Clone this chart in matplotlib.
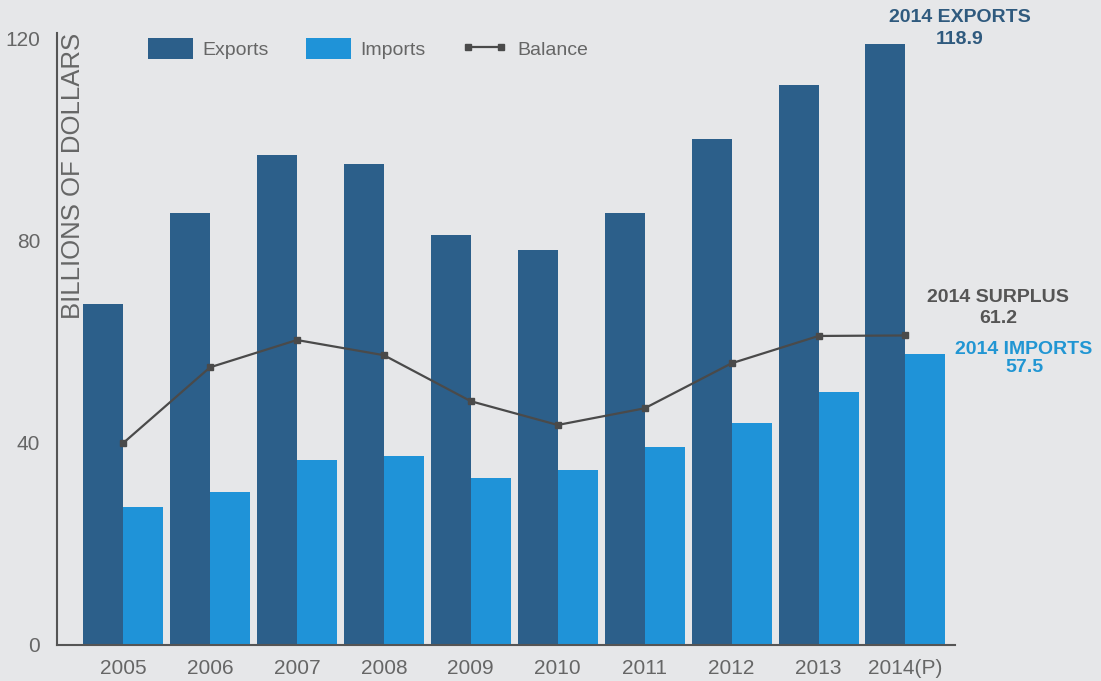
import matplotlib.pyplot as plt
import numpy as np

years = ["2005", "2006", "2007", "2008", "2009", "2010", "2011", "2012", "2013", "2014(P)"]
exports = [67.4, 85.4, 96.8, 95.1, 81.0, 78.1, 85.4, 100.0, 110.7, 118.9]
imports = [27.3, 30.2, 36.6, 37.4, 33.0, 34.6, 39.1, 43.9, 50.0, 57.5]
balance = [39.9, 54.9, 60.3, 57.3, 48.2, 43.5, 46.8, 55.7, 61.1, 61.2]

bg = "#e6e7e9"
exp_color = "#2c5f8a"
imp_color = "#1f93d8"
line_color = "#4a4a4a"
text_color = "#666666"

plt.rcParams["font.family"] = ["Liberation Sans", "DejaVu Sans"]

fig = plt.figure(figsize=(11.01, 6.81), dpi=100, facecolor=bg)
ax = fig.add_axes([57 / 1101, 36 / 681, (955 - 57) / 1101, (645 - 33) / 681])
ax.set_facecolor(bg)

x = np.arange(len(years))
w = 0.46
b1 = ax.bar(x - w / 2, exports, w, color=exp_color, label="Exports", zorder=2)
b2 = ax.bar(x + w / 2, imports, w, color=imp_color, label="Imports", zorder=2)
l1, = ax.plot(x, balance, color=line_color, lw=1.6, marker="s", markersize=4,
              label="Balance", zorder=3)

ax.set_xlim(-0.76, 9.57)
ax.set_ylim(0, 121)
ax.set_yticks([0, 40, 80, 120])
ax.set_xticks(x)
ax.set_xticklabels(years)
ax.tick_params(length=0, labelsize=15, labelcolor=text_color)
ax.tick_params(axis="x", pad=10)
ax.tick_params(axis="y", pad=12)

for side in ["top", "right"]:
    ax.spines[side].set_visible(False)
ax.spines["left"].set_color("#555555")
ax.spines["bottom"].set_color("#555555")
ax.spines["left"].set_linewidth(1.5)
ax.spines["bottom"].set_linewidth(1.5)

ax.text(0.004, 1.0, "BILLIONS OF DOLLARS", transform=ax.transAxes, rotation=90,
        va="top", ha="left", fontsize=18.5, color=text_color)

ax.legend([b1, b2, l1], ["Exports", "Imports", "Balance"], loc="upper left",
          bbox_to_anchor=(0.082, 1.02), ncol=3, frameon=False, numpoints=2,
          fontsize=14, handlelength=2.3, handleheight=1.3, columnspacing=1.9,
          handletextpad=0.5, labelcolor=text_color)

fig.text(960 / 1101, 1 - 18 / 681, "2014 EXPORTS", ha="center", va="center",
         fontsize=14, fontweight="bold", color="#2f5a7e")
fig.text(960 / 1101, 1 - 40 / 681, "118.9", ha="center", va="center",
         fontsize=14, fontweight="bold", color="#2f5a7e")
fig.text(998 / 1101, 1 - 297 / 681, "2014 SURPLUS", ha="center", va="center",
         fontsize=14, fontweight="bold", color="#555555")
fig.text(998 / 1101, 1 - 318 / 681, "61.2", ha="center", va="center",
         fontsize=14, fontweight="bold", color="#555555")
fig.text(1024 / 1101, 1 - 349 / 681, "2014 IMPORTS", ha="center", va="center",
         fontsize=14, fontweight="bold", color="#2196d3")
fig.text(1024 / 1101, 1 - 368 / 681, "57.5", ha="center", va="center",
         fontsize=14, fontweight="bold", color="#2196d3")

fig.savefig("out.png", dpi=100, facecolor=bg)
